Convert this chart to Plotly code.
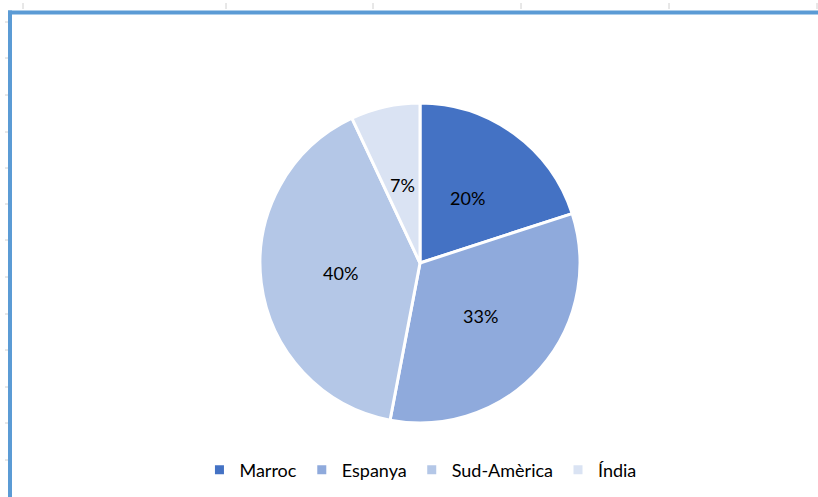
import math
import plotly.graph_objects as go

W, H = 818, 497

labels = ["Marroc", "Espanya", "Sud-Amèrica", "Índia"]
values = [20, 33, 40, 7]
colors = ["#4472C4", "#8FAADC", "#B4C7E7", "#DAE3F3"]

# spreadsheet-frame decoration positions (pixels)
top_ticks_x = [23, 226, 373, 521, 669, 817]
left_ticks_y = [22, 58, 95, 132, 168, 204, 240, 277, 314, 350, 387, 423, 460]

FONT = "Lato"


def px(x):
    return x / W


def py(y):
    return 1 - y / H


cx, cy, r = 420, 263, 160

fig = go.Figure(
    go.Pie(
        labels=labels,
        values=values,
        marker=dict(colors=colors, line=dict(color="white", width=3)),
        sort=False,
        direction="clockwise",
        rotation=0,
        textinfo="none",
        hoverinfo="label+percent",
        domain=dict(x=[px(cx - r), px(cx + r)], y=[py(cy + r), py(cy - r)]),
    )
)

# percentage labels at half radius, mid-angle of each slice (Excel-style)
total = sum(values)
annotations = []
cum = 0.0
for v in values:
    mid = (cum + v / 2) / total * 2 * math.pi
    cum += v
    lx = cx + 0.5 * r * math.sin(mid)
    ly = cy - 0.5 * r * math.cos(mid)
    annotations.append(dict(
        x=px(lx), y=py(ly), xref="paper", yref="paper",
        text=f"{round(v / total * 100)}%", showarrow=False,
        xanchor="center", yanchor="middle",
        font=dict(size=18, color="#000000", family=FONT),
    ))

shapes = []
for x in top_ticks_x:
    shapes.append(dict(type="line", xref="paper", yref="paper",
                       x0=px(x), x1=px(x), y0=py(3), y1=py(9),
                       line=dict(color="#D0D0D0", width=1)))
for y in left_ticks_y:
    shapes.append(dict(type="line", xref="paper", yref="paper",
                       x0=px(5), x1=px(8), y0=py(y), y1=py(y),
                       line=dict(color="#D0D0D0", width=1)))
shapes.append(dict(type="line", xref="paper", yref="paper",
                   x0=px(8), x1=px(W), y0=py(12.5), y1=py(12.5),
                   line=dict(color="#5B9BD5", width=4)))
shapes.append(dict(type="line", xref="paper", yref="paper",
                   x0=px(10), x1=px(10), y0=py(10.5), y1=py(H),
                   line=dict(color="#5B9BD5", width=4)))

fig.update_layout(
    width=W,
    height=H,
    margin=dict(l=0, r=0, t=0, b=0),
    paper_bgcolor="white",
    plot_bgcolor="white",
    showlegend=True,
    legend=dict(
        orientation="h",
        x=0.514,
        xanchor="center",
        y=py(470),
        yanchor="middle",
        font=dict(size=18, color="#000000", family=FONT),
        itemwidth=30,
    ),
    shapes=shapes,
    annotations=annotations,
)

fig.write_html("out.html", config={"displayModeBar": False},
               post_script="document.body.style.margin='0';")
